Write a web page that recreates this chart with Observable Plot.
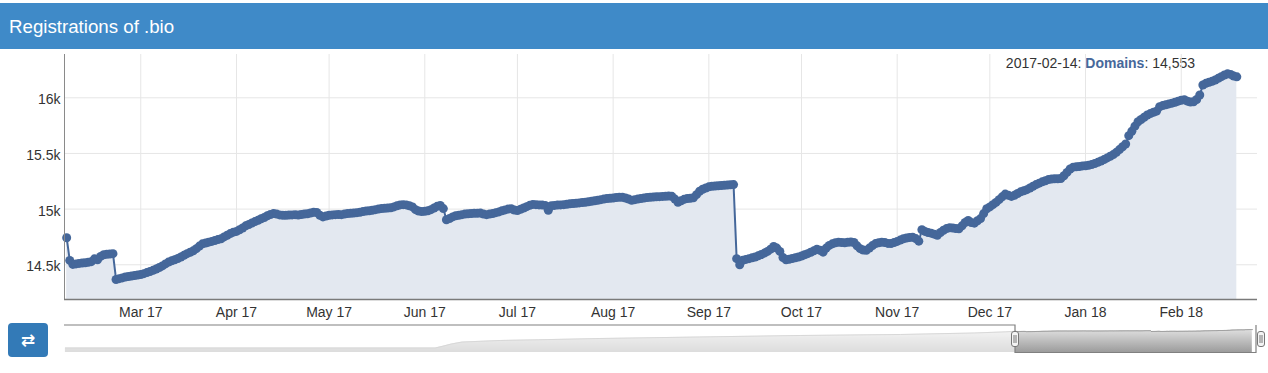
<!DOCTYPE html>
<html><head><meta charset="utf-8">
<script src="https://cdn.jsdelivr.net/npm/d3@7"></script>
<script src="https://cdn.jsdelivr.net/npm/@observablehq/plot@0.6"></script>
<style>
html,body{margin:0;padding:0;background:#fff}
body{width:1268px;height:373px;overflow:hidden;position:relative;font-family:"Liberation Sans",Arial,Helvetica,sans-serif}
#hdr{position:absolute;left:0;top:3px;width:1268px;height:46px;background:#3f8ac8}
#title{position:absolute;left:9px;top:17.5px;font-size:18.7px;line-height:18.7px;color:#fff;white-space:nowrap}
#tip{position:absolute;right:73px;top:55.5px;font-size:14px;line-height:14px;color:#333;white-space:nowrap}
#tip b{color:#47689a}
#main{position:absolute;left:0;top:49px}
#nav{position:absolute;left:0;top:320px}
#btn{position:absolute;left:8px;top:323px;width:40px;height:34px;background:#337ab7;border-radius:4px;color:#fff;font-family:"DejaVu Sans",sans-serif;font-size:17px;font-weight:bold;line-height:34px;text-align:center}
</style></head>
<body>
<div id="hdr"></div>
<div id="title">Registrations of .bio</div>
<div id="tip">2017-02-14: <b>Domains</b>: 14,553</div>
<div id="main"></div>
<div id="nav"></div>
<div id="btn">⇄</div>
<script>
// ---- data: daily .bio domain counts ----
const feb17 = [14743,14539,14503,14508,14512,14515,14518,14522,14528,14553,14545,14575,14590,14594,14597,14600,14368,14375,14382,14390,14395,14398,14403,14408]; // from Feb 5
const mar17 = [14413,14420,14430,14440,14450,14462,14475,14490,14508,14524,14535,14545,14556,14570,14585,14600,14612,14625,14645,14668,14688,14695,14703,14710,14718,14726,14734,14750,14765,14780,14793];
const apr17 = [14800,14815,14830,14850,14862,14875,14888,14900,14913,14925,14940,14952,14960,14955,14948,14945,14944,14946,14948,14950,14947,14952,14955,14958,14965,14972,14970,14945,14930,14938];
const may17 = [14945,14948,14950,14952,14950,14955,14960,14962,14965,14968,14972,14978,14982,14985,14990,14995,15000,15005,15008,15010,15012,15020,15030,15038,15040,15038,15030,15020,14995,14982,14978];
const jun17 = [14980,14985,14995,15010,15025,15033,15005,14904,14915,14930,14940,14945,14950,14955,14958,14960,14962,14963,14964,14955,14950,14955,14960,14968,14975,14985,14993,15000,15003,14992];
const jul17 = [14988,14998,15010,15022,15034,15042,15040,15038,15036,15033,14990,15030,15033,15036,15038,15040,15044,15048,15050,15053,15056,15059,15062,15066,15070,15075,15080,15085,15090,15095,15098];
const aug17 = [15100,15104,15106,15107,15100,15090,15080,15085,15090,15095,15100,15104,15107,15108,15110,15112,15114,15116,15118,15115,15090,15062,15075,15088,15095,15098,15102,15130,15160,15178,15190];
const sep17 = [15200,15205,15208,15210,15212,15214,15216,15218,15220,14555,14500,14540,14548,14555,14562,14570,14580,14592,14605,14620,14640,14665,14650,14620,14565,14545,14550,14556,14562,14570];
const oct17 = [14578,14590,14600,14612,14625,14640,14630,14613,14650,14674,14688,14698,14703,14700,14698,14702,14705,14700,14670,14645,14632,14630,14650,14672,14690,14698,14703,14700,14692,14690,14700];
const nov17 = [14710,14722,14734,14740,14745,14748,14735,14712,14815,14800,14790,14784,14775,14765,14790,14810,14825,14833,14830,14826,14824,14850,14880,14898,14880,14874,14895,14915,14960,15003];
const dec17 = [15020,15040,15060,15085,15110,15135,15125,15114,15125,15140,15155,15165,15175,15190,15205,15220,15233,15245,15255,15265,15270,15272,15273,15275,15300,15330,15360,15377,15380,15383,15388];
const jan18 = [15390,15393,15400,15410,15420,15432,15445,15460,15475,15490,15510,15535,15560,15585,15660,15700,15745,15785,15805,15825,15845,15858,15870,15880,15920,15930,15938,15945,15952,15960,15970];
const feb18 = [15978,15982,15970,15962,15965,15985,16025,16115,16130,16140,16148,16160,16175,16190,16205,16215,16210,16195,16188];
const monthBlocks = [["2017-02",5,feb17],["2017-03",1,mar17],["2017-04",1,apr17],["2017-05",1,may17],["2017-06",1,jun17],["2017-07",1,jul17],["2017-08",1,aug17],["2017-09",1,sep17],["2017-10",1,oct17],["2017-11",1,nov17],["2017-12",1,dec17],["2018-01",1,jan18],["2018-02",1,feb18]];

// navigator (full history) readings
const navHistDates = ["2012-12-04","2014-07-20","2014-08-01","2014-08-15","2014-09-01","2014-10-01","2014-11-01","2015-01-01","2015-04-10","2015-09-17","2016-02-25","2016-08-04","2016-12-01","2017-01-20"];
const navHistValues = [0,0,1500,3500,5200,5900,6600,7200,8350,9670,11000,11870,13200,14200];

const xTicks = ["2017-03-01","2017-04-01","2017-05-01","2017-06-01","2017-07-01","2017-08-01","2017-09-01","2017-10-01","2017-11-01","2017-12-01","2018-01-01","2018-02-01"];
const yTicks = [14500,15000,15500,16000];

// ---- build ----
const data = [];
for (const [ym, d0, vals] of monthBlocks) vals.forEach((v,i)=>data.push({date:new Date(`${ym}-${String(d0+i).padStart(2,"0")}T00:00:00Z`), value:v}));
const xDomain = [new Date("2017-02-04T07:12:00Z"), new Date("2018-02-25T16:48:00Z")];
const yDomain = [14188, 16389];
const tickDates = xTicks.map(s=>new Date(s+"T00:00:00Z"));
const fmt = d3.utcFormat("%b %y");
const lineColor = "#45679a";
const font = "'Liberation Sans', Arial, Helvetica, sans-serif";

const main = Plot.plot({
  width:1268, height:275, marginLeft:64, marginRight:11, marginTop:5, marginBottom:25,
  style:{fontFamily:font, fontSize:"14px", color:"#333", background:"transparent", overflow:"visible"},
  x:{type:"utc", domain:xDomain},
  y:{domain:yDomain},
  marks:[
    Plot.gridX(tickDates,{stroke:"#e6e6e6", strokeOpacity:1}),
    Plot.gridY(yTicks,{stroke:"#e6e6e6", strokeOpacity:1}),
    Plot.areaY(data,{x:"date", y1:yDomain[0], y2:"value", fill:"#e3e8f0", fillOpacity:1}),
    Plot.line(data,{x:"date", y:"value", stroke:lineColor, strokeWidth:2}),
    Plot.dot(data,{x:"date", y:"value", r:4.5, fill:lineColor, stroke:"none"}),
    Plot.ruleX([xDomain[0]],{stroke:"#8a8a8a"}),
    Plot.ruleY([yDomain[0]],{stroke:"#7a7a7a", strokeWidth:1.5}),
    Plot.axisX(tickDates,{tickSize:0, tickPadding:8, tickFormat:fmt, fontSize:14, fill:"#333", label:null}),
    Plot.axisY(yTicks,{tickSize:0, tickPadding:4, tickFormat:d=>(d/1000)+"k", fontSize:14, fill:"#333", label:null, dy:2})
  ]
});
document.getElementById("main").append(main);

// navigator
const navData = navHistDates.map((d,i)=>({date:new Date(d+"T00:00:00Z"), value:navHistValues[i]})).concat(data);
const navLeftPx = 64, navSelL = 1015, navSelR = 1256;
const span = xDomain[1]-xDomain[0];
const navDomain = [new Date(+xDomain[0] - (navSelL-navLeftPx)/(navSelR-navSelL)*span), xDomain[1]];
const navY = [-3956, 19778];

function navDefs(){
  const defs = d3.create("svg:defs");
  const g = defs.append("linearGradient").attr("id","navgrad").attr("gradientUnits","userSpaceOnUse").attr("x1",0).attr("x2",0).attr("y1",5).attr("y2",32);
  g.append("stop").attr("offset","0").attr("stop-color","#ececec");
  g.append("stop").attr("offset","1").attr("stop-color","#9c9c9c");
  return defs.node();
}
function navOverlay(index, scales, values, dims){
  const x = scales.x;
  const x0 = x(xDomain[0]), x1 = x(xDomain[1]);
  const top = dims.marginTop, bot = dims.height - dims.marginBottom;
  const left = dims.marginLeft;
  const g = d3.create("svg:g");
  g.append("rect").attr("x",left).attr("y",top).attr("width",x0-left).attr("height",bot-top).attr("fill","#fff").attr("fill-opacity",0.65);
  g.append("path").attr("d",`M${left},${top}H${x0}V${bot+0.5}H${x1}V${top}`).attr("fill","none").attr("stroke","#808080").attr("stroke-width",1.2);
  for (const cx of [x0, x1+5]) {
    const h = g.append("g");
    h.append("rect").attr("x",cx-3.5).attr("y",top+6.5).attr("width",7).attr("height",15).attr("rx",2.5).attr("fill","#f4f4f4").attr("stroke","#777");
    h.append("line").attr("x1",cx-1).attr("x2",cx-1).attr("y1",top+10).attr("y2",top+18).attr("stroke","#777");
    h.append("line").attr("x1",cx+1).attr("x2",cx+1).attr("y1",top+10).attr("y2",top+18).attr("stroke","#777");
  }
  return g.node();
}
const nav = Plot.plot({
  width:1268, height:40, marginLeft:navLeftPx, marginRight:1268-navSelR, marginTop:5, marginBottom:8,
  style:{background:"transparent", overflow:"visible"},
  x:{type:"utc", domain:navDomain, axis:null},
  y:{domain:navY, axis:null},
  marks:[
    navDefs,
    Plot.areaY(navData,{x:"date", y1:navY[0], y2:"value", fill:"url(#navgrad)", fillOpacity:1}),
    Plot.line(navData,{x:"date", y:"value", stroke:"#8f8f8f", strokeWidth:1}),
    navOverlay
  ]
});
document.getElementById("nav").append(nav);
</script>
</body></html>
